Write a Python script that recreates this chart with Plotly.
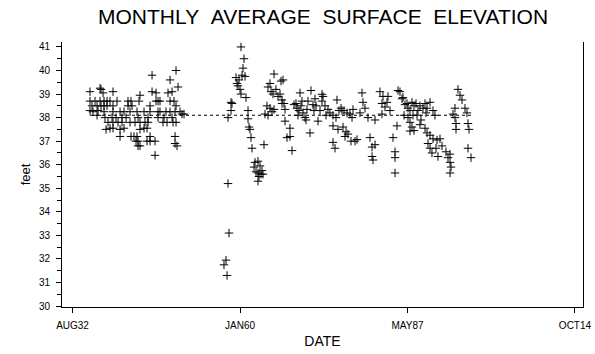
import plotly.graph_objects as go
import pandas as pd

# Decimal-year dates and monthly average surface elevation (feet)
year_early = [1935.48, 1935.48, 1935.48, 1935.81, 1935.97, 1936.30, 1936.63, 1936.63, 1936.79,
              1937.12, 1937.12, 1937.28, 1937.28, 1937.61, 1937.77, 1937.77, 1937.77, 1937.93,
              1938.10, 1938.26, 1938.26, 1938.42, 1938.75, 1938.75, 1939.08,
              1939.24, 1939.24, 1939.24, 1939.24, 1939.24, 1939.73, 1939.90, 1940.06,
              1940.39, 1940.39, 1940.39, 1940.71, 1940.71, 1941.04, 1941.04, 1941.37,
              1941.69, 1941.69, 1942.02, 1942.02, 1942.18, 1942.18, 1942.35, 1942.67, 1942.84,
              1943.00, 1943.16, 1943.16, 1943.33, 1943.33, 1943.33, 1943.49,
              1943.65, 1943.65, 1943.65, 1943.65, 1944.31, 1944.31, 1944.47, 1944.80, 1944.80,
              1944.96, 1944.96, 1945.29, 1945.29, 1945.29, 1945.29, 1945.62, 1945.62,
              1946.11, 1946.11, 1946.27, 1946.27, 1946.60, 1946.60, 1946.60, 1946.92, 1946.92,
              1947.41, 1947.58, 1947.90, 1948.07, 1948.23, 1948.56, 1948.56, 1948.56,
              1948.89, 1948.89, 1949.05, 1949.21, 1949.38, 1949.38, 1949.38,
              1949.54, 1949.54, 1949.54, 1949.70, 1949.87, 1950.19, 1950.52, 1950.85]
elev_early = [39.10, 38.70, 38.30, 38.50, 38.25, 38.70, 38.50, 38.10, 38.30,
              39.25, 38.70, 39.20, 38.50, 39.05, 38.70, 38.50, 38.25, 38.00,
              37.50, 38.70, 38.50, 37.80, 38.70, 37.55, 38.00,
              39.10, 38.50, 38.25, 37.80, 37.55, 38.00, 38.70, 37.80,
              38.25, 37.50, 37.20, 38.00, 37.80, 38.25, 37.55, 38.00,
              38.70, 38.50, 38.25, 37.80, 38.70, 37.20, 38.50, 37.20, 37.80,
              37.00, 38.25, 37.20, 38.00, 37.00, 36.80, 38.70,
              38.95, 37.80, 37.50, 36.80, 38.25, 37.55, 37.80, 37.55, 37.00,
              38.00, 37.80, 38.50, 38.25, 37.20, 37.00, 39.80, 39.10,
              37.00, 36.40, 39.05, 38.70, 38.70, 38.25, 38.00, 38.70, 38.25,
              37.80, 38.00, 38.25, 37.80, 39.05, 39.60, 38.70, 38.25,
              39.10, 38.00, 37.80, 38.70, 38.25, 37.20, 36.90,
              40.00, 38.50, 37.80, 36.80, 39.30, 38.25, 38.15, 38.15]

year_late = [1957.38, 1957.71, 1957.88, 1958.04, 1958.04, 1958.20, 1958.53, 1958.53, 1958.69,
             1959.35, 1959.51, 1959.67, 1959.84, 1960.00, 1960.16, 1960.16, 1960.33, 1960.49,
             1960.65, 1960.82, 1960.98, 1961.31, 1961.31, 1961.47, 1961.63, 1961.80, 1961.96,
             1962.29, 1962.45, 1962.62, 1962.94, 1962.94, 1962.94, 1963.11, 1963.27, 1963.43,
             1963.60, 1963.76, 1963.92, 1964.09, 1964.41, 1964.58, 1964.58, 1964.90, 1964.90,
             1965.07, 1965.23, 1965.39, 1965.56, 1965.56, 1965.88, 1966.21, 1966.54, 1966.70,
             1966.87, 1966.87, 1967.03, 1967.19, 1967.36, 1967.36, 1967.68, 1968.17, 1968.17,
             1968.50, 1968.83, 1969.15, 1969.32, 1969.48, 1969.64, 1969.81, 1969.97, 1970.13,
             1970.30, 1970.62, 1970.79, 1970.95, 1971.11, 1971.44, 1971.60, 1971.93, 1972.10,
             1972.26, 1972.42, 1972.75, 1973.08, 1973.40, 1973.40, 1973.57, 1973.89, 1974.06,
             1974.38, 1974.71, 1975.20, 1975.20, 1975.20, 1975.53, 1975.69, 1975.85, 1976.02,
             1976.18, 1976.51, 1976.67, 1976.84, 1977.00, 1977.16, 1977.33, 1977.49, 1977.65,
             1977.98, 1978.14, 1978.31, 1978.47, 1978.80, 1979.12, 1979.61, 1979.94, 1980.10,
             1980.43, 1980.92, 1981.25, 1981.58, 1981.58, 1981.74, 1982.07, 1982.07, 1982.88,
             1983.21, 1983.21, 1983.37, 1983.70, 1984.03, 1984.19, 1984.52, 1985.01,
             1985.34, 1985.34, 1985.34, 1985.66, 1985.83, 1986.15, 1986.48, 1986.64, 1986.81,
             1986.97, 1987.30, 1987.46, 1987.46, 1987.79, 1987.79, 1987.79, 1988.11, 1988.11,
             1988.28, 1988.44, 1988.44, 1988.77, 1988.93, 1989.09, 1989.42, 1989.42, 1989.58,
             1989.91, 1990.24, 1990.24, 1990.40, 1990.57, 1990.57, 1990.73, 1991.06, 1991.06,
             1991.06, 1991.38, 1991.55, 1991.55, 1991.87, 1992.04, 1992.20, 1992.36, 1992.69,
             1993.02, 1993.67, 1994.00, 1994.33, 1994.33, 1994.33, 1994.49, 1994.82, 1995.14,
             1995.14, 1995.31, 1995.31, 1995.63, 1995.96, 1996.29, 1996.78, 1997.10, 1997.27,
             1997.27, 1997.43, 1997.76]
elev_late = [31.75, 31.95, 31.30, 35.20, 38.00, 33.10, 38.30, 38.65, 38.60,
             39.70, 39.45, 39.35, 39.60, 39.20, 41.00, 39.00, 39.80, 40.10,
             40.50, 39.75, 38.85, 38.30, 37.95, 37.60, 37.50, 37.15, 36.70,
             35.90, 36.10, 35.70, 36.15, 35.65, 35.30, 35.50, 35.95, 35.60,
             35.75, 35.60, 36.85, 38.15, 38.50, 39.30, 38.10, 39.45, 38.40,
             39.10, 38.25, 39.00, 39.85, 38.35, 39.20, 38.90, 39.00, 39.55,
             38.75, 38.60, 39.60, 38.60, 38.35, 37.85, 37.15, 37.55, 37.20,
             36.60, 38.55, 38.60, 38.40, 38.10, 38.30, 39.05, 38.50, 38.70,
             38.20, 38.00, 37.90, 38.35, 38.70, 37.35, 39.15, 38.55, 38.30,
             38.80, 38.50, 37.85, 38.30, 38.70, 38.99, 38.90, 38.50, 38.10,
             38.35, 38.20, 38.10, 37.65, 36.95, 36.70, 38.00, 38.75, 37.50,
             38.30, 38.40, 38.30, 37.60, 38.30, 37.20, 37.40, 38.20, 37.30,
             38.15, 37.00, 38.00, 38.35, 37.00, 37.07, 38.20, 39.05, 38.65,
             38.40, 38.00, 37.15, 36.75, 36.35, 36.20, 37.90, 36.85, 39.10,
             38.15, 38.60, 38.90, 38.45, 38.65, 38.90, 38.30, 37.15,
             36.55, 36.30, 35.65, 37.65, 39.15, 39.10, 38.80, 38.85, 38.10,
             38.55, 38.60, 38.40, 38.00, 38.30, 37.80, 37.43, 38.65, 37.60,
             38.10, 38.50, 37.45, 38.60, 38.10, 38.30, 38.50, 37.70, 37.90,
             38.40, 38.60, 37.55, 38.20, 38.40, 37.35, 36.90, 38.65, 37.25,
             36.70, 36.50, 38.30, 37.10, 38.10, 36.70, 37.05, 36.35, 37.10,
             36.80, 36.55, 36.30, 36.45, 36.10, 35.65, 35.90, 38.15, 38.40,
             38.00, 37.75, 37.50, 39.20, 38.95, 38.75, 38.40, 38.20, 37.75,
             36.70, 37.50, 36.30]

mean_level = 38.1
tick_dates = ["1932-08-16", "1960-01-01", "1987-05-19", "2014-10-04"]
tick_labels = ["AUG32", "JAN60", "MAY87", "OCT14"]
x_range = ["1930-11-26", "2016-01-26"]
y_ticks = [30, 31, 32, 33, 34, 35, 36, 37, 38, 39, 40, 41]
title_text = "MONTHLY\u00a0\u00a0AVERAGE\u00a0\u00a0SURFACE\u00a0\u00a0ELEVATION"


def to_date(y):
    yi = int(y)
    start = pd.Timestamp(yi, 1, 1)
    end = pd.Timestamp(yi + 1, 1, 1)
    return start + (end - start) * (y - yi)


dates = [to_date(y) for y in year_early + year_late]
elev = elev_early + elev_late

fig = go.Figure()
fig.add_trace(go.Scatter(
    x=dates, y=elev, mode="markers",
    marker=dict(symbol="cross-thin", size=6, color="black",
                line=dict(width=1, color="black")),
    showlegend=False, hoverinfo="skip"))
fig.add_trace(go.Scatter(
    x=[min(dates), max(dates)], y=[mean_level, mean_level], mode="lines",
    line=dict(color="black", width=1, dash="3px,3px"),
    showlegend=False, hoverinfo="skip"))

fig.update_layout(
    width=595, height=354,
    margin=dict(l=62, r=12, t=42, b=47, autoexpand=False),
    paper_bgcolor="white", plot_bgcolor="white",
    font=dict(family="Liberation Sans", color="black"),
    title=dict(text=title_text,
               x=0.543, xanchor="center", y=1 - 17 / 354, yanchor="middle",
               font=dict(size=21, family="Liberation Sans", color="black")),
    xaxis=dict(range=x_range, type="date", automargin=False,
               tickvals=tick_dates, ticktext=tick_labels,
               showline=True, linecolor="black", linewidth=1,
               ticks="outside", ticklen=5, tickcolor="black",
               showgrid=False, zeroline=False,
               tickfont=dict(size=10), ticklabeloverflow="allow",
               ticklabelstandoff=4,
               title=dict(text="DATE", font=dict(size=14), standoff=6)),
    yaxis=dict(range=[29.96, 41.21], automargin=False,
               tickvals=y_ticks,
               showline=True, mirror=True, linecolor="black", linewidth=1,
               ticks="outside", ticklen=5, tickcolor="black",
               minor=dict(dtick=0.5, ticks="outside", ticklen=4, tickcolor="black"),
               showgrid=False, zeroline=False,
               tickfont=dict(size=10), ticklabelstandoff=4,
               title=dict(text="feet", font=dict(size=13), standoff=5)),
)

fig.write_html("out.html",
               config={"displayModeBar": False, "staticPlot": True},
               post_script="document.body.style.margin='0';document.body.style.overflow='hidden';")
